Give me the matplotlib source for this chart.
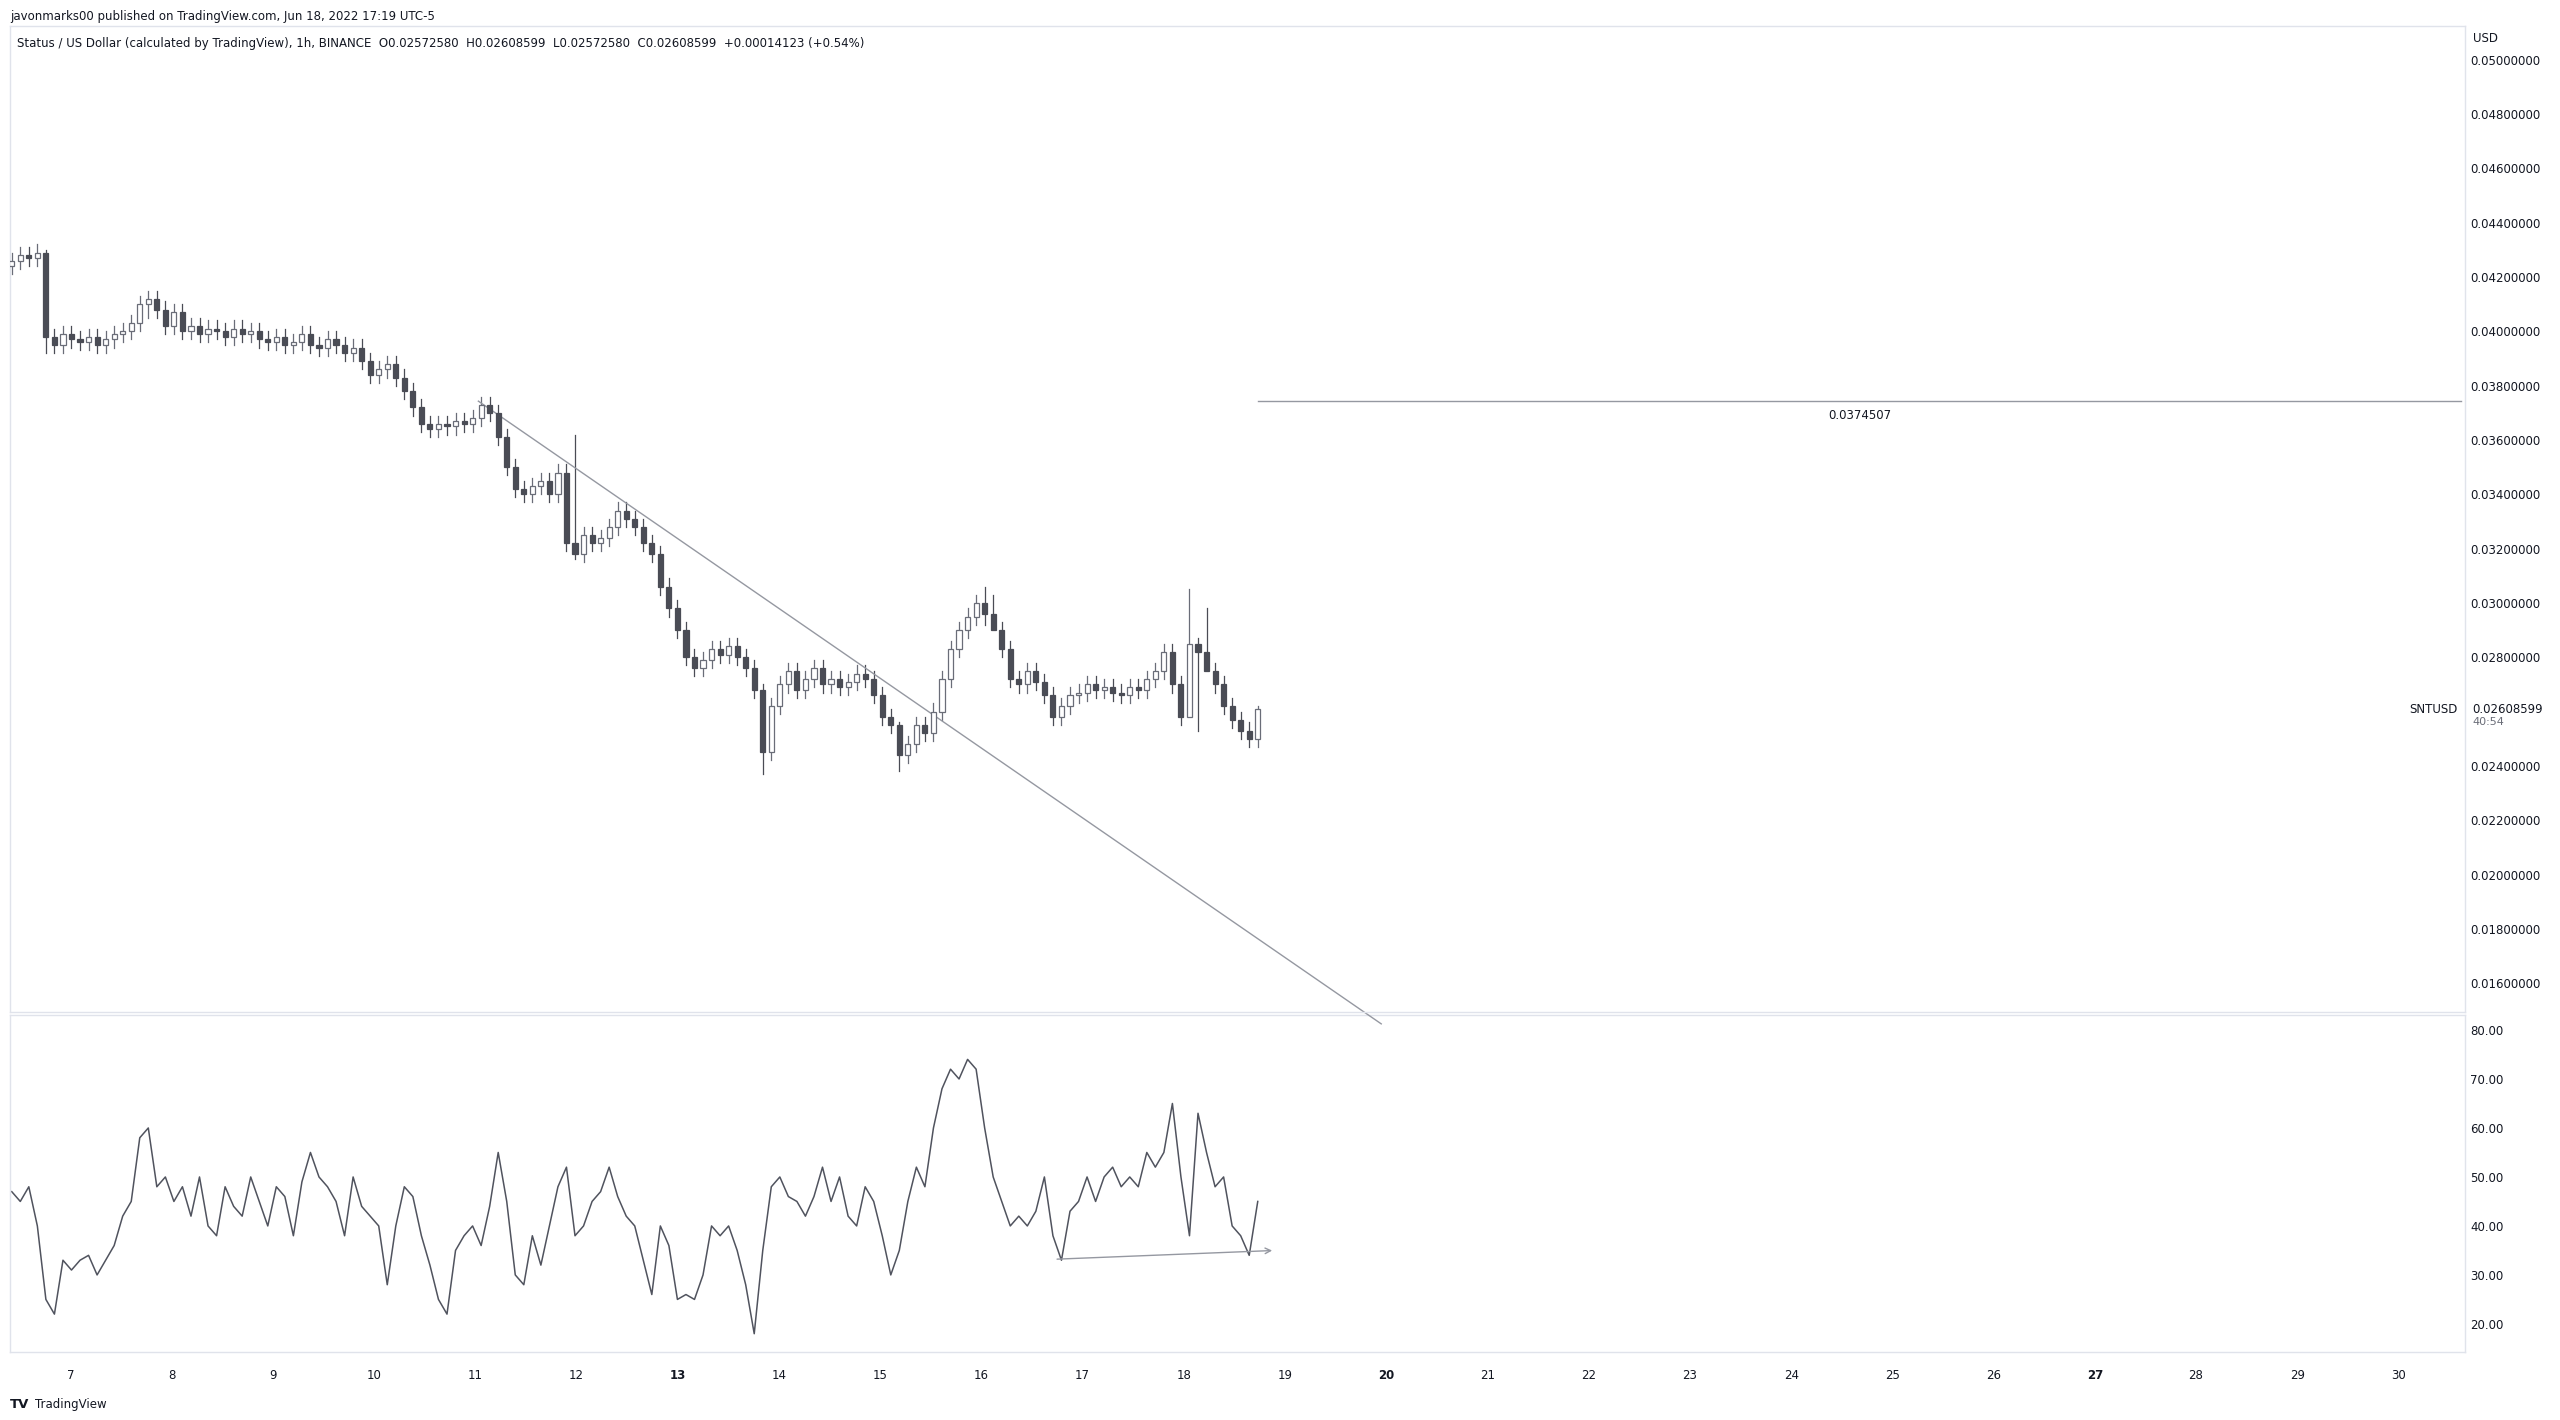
#!/usr/bin/env python3
import numpy as np
import matplotlib.pyplot as plt
from matplotlib.patches import Rectangle

# ~2h candles from June 6.42 to June 18.73 (day units)
t0 = 6.42
t_end = 18.73
closes = [
    0.0426, 0.0428, 0.0427, 0.0429, 0.0398, 0.0395, 0.0399, 0.0397, 0.0396, 0.0398, 0.0395, 0.0397,
    0.0399, 0.0400, 0.0403, 0.0410, 0.0412, 0.0408, 0.0402, 0.0407, 0.0400, 0.0402, 0.0399, 0.0401,
    0.0400, 0.0398, 0.0401, 0.0399, 0.0400, 0.0397, 0.0396, 0.0398, 0.0395, 0.0396, 0.0399, 0.0395,
    0.0394, 0.0397, 0.0395, 0.0392, 0.0394, 0.0389, 0.0384, 0.0386, 0.0388, 0.0383, 0.0378, 0.0372,
    0.0366, 0.0364, 0.0366, 0.0365, 0.0367, 0.0366, 0.0368, 0.0373, 0.0370, 0.0361, 0.0350, 0.0342,
    0.0340, 0.0343, 0.0345, 0.0340, 0.0348, 0.0322, 0.0318, 0.0325, 0.0322, 0.0324, 0.0328, 0.0334,
    0.0331, 0.0328, 0.0322, 0.0318, 0.0306, 0.0298, 0.0290, 0.0280, 0.0276, 0.0279, 0.0283, 0.0281,
    0.0284, 0.0280, 0.0276, 0.0268, 0.0245, 0.0262, 0.0270, 0.0275, 0.0268, 0.0272, 0.0276, 0.0270,
    0.0272, 0.0269, 0.0271, 0.0274, 0.0272, 0.0266, 0.0258, 0.0255, 0.0244, 0.0248, 0.0255, 0.0252,
    0.0260, 0.0272, 0.0283, 0.0290, 0.0295, 0.0300, 0.0296, 0.0290, 0.0283, 0.0272, 0.0270, 0.0275,
    0.0271, 0.0266, 0.0258, 0.0262, 0.0266, 0.0267, 0.0270, 0.0268, 0.0269, 0.0267, 0.0266, 0.0269,
    0.0268, 0.0272, 0.0275, 0.0282, 0.0270, 0.0258, 0.0285, 0.0282, 0.0275, 0.0270, 0.0262, 0.0257,
    0.0253, 0.0250, 0.02608599,
]
first_open = 0.0424
wick = 0.0003
# notable wicks: index -> (high, low)
spikes = {4: (0.0430, 0.0392), 16: (0.0415, 0.0405), 66: (0.0362, 0.0316),
          88: (0.0270, 0.0237), 104: (0.0256, 0.0238), 114: (0.0306, 0.0292),
          115: (0.0303, 0.0293), 138: (0.0305, 0.0268), 139: (0.0287, 0.0253),
          140: (0.0298, 0.0278), 146: (0.0262, 0.0247)}

rsi = [
    47, 45, 48, 40, 25, 22, 33, 31, 33, 34, 30, 33,
    36, 42, 45, 58, 60, 48, 50, 45, 48, 42, 50, 40,
    38, 48, 44, 42, 50, 45, 40, 48, 46, 38, 49, 55,
    50, 48, 45, 38, 50, 44, 42, 40, 28, 40, 48, 46,
    38, 32, 25, 22, 35, 38, 40, 36, 44, 55, 45, 30,
    28, 38, 32, 40, 48, 52, 38, 40, 45, 47, 52, 46,
    42, 40, 33, 26, 40, 36, 25, 26, 25, 30, 40, 38,
    40, 35, 28, 18, 35, 48, 50, 46, 45, 42, 46, 52,
    45, 50, 42, 40, 48, 45, 38, 30, 35, 45, 52, 48,
    60, 68, 72, 70, 74, 72, 60, 50, 45, 40, 42, 40,
    43, 50, 38, 33, 43, 45, 50, 45, 50, 52, 48, 50,
    48, 55, 52, 55, 65, 50, 38, 63, 55, 48, 50, 40,
    38, 34, 45,
]

trend_pts = ([11.03, 19.95], [0.03743, 0.01450])
hline_level = 0.0374507
hline_span = [18.73, 30.62]
div_pts = ([16.72, 18.9], [33.2, 35.0])

price_ticks = [v for v in np.arange(0.016, 0.0501, 0.002) if abs(v - 0.026) > 1e-6]
rsi_ticks = [20, 30, 40, 50, 60, 70, 80]
day_ticks = list(range(7, 31))
bold_days = [13, 20, 27]

GRID = '#e0e3eb'
TXT = '#131722'
UP_EDGE = '#6a6d78'
DOWN = '#4a4c55'

fig = plt.figure(figsize=(25.6, 14.2), dpi=100)
fs = 8.5
xlim = (6.4, 30.66)
ylim = (0.01492, 0.05126)

ax2 = fig.add_axes([0.0038, 0.048, 0.9592, 0.237])
ax = fig.add_axes([0.0038, 0.287, 0.9592, 0.695])
ax.patch.set_alpha(0)

for a in (ax, ax2):
    a.set_xlim(*xlim)
    for s in a.spines.values():
        s.set_color(GRID)
        s.set_linewidth(1)
    a.tick_params(axis='both', length=0, colors=TXT, labelsize=fs)
    a.yaxis.tick_right()

ax.set_ylim(*ylim)
ax.set_yticks(price_ticks)
ax.set_yticklabels([f'{v:.8f}' for v in price_ticks])
ax.set_xticks([])

# candles
step = (t_end - t0) / (len(closes) - 1)
opens = [first_open] + closes[:-1]
bw = step * 0.6
for i, (o, c) in enumerate(zip(opens, closes)):
    x = t0 + i * step
    hi, lo = spikes.get(i, (max(o, c) + wick, min(o, c) - wick))
    up = c >= o
    col = UP_EDGE if up else DOWN
    ax.plot([x, x], [lo, hi], color=col, lw=0.9, zorder=2)
    ax.add_patch(Rectangle((x - bw / 2, min(o, c)), bw, max(abs(c - o), 0.00003),
                           facecolor='white' if up else DOWN, edgecolor=col, lw=0.9, zorder=3))

ax.plot(*trend_pts, color='#9598a1', lw=1, clip_on=False)
ax.plot(hline_span, [hline_level] * 2, color='#9598a1', lw=1)
ax.text(sum(hline_span) / 2, hline_level - 0.0003, f'{hline_level}', ha='center', va='top',
        fontsize=fs, color=TXT)

# last price
last = closes[-1]
ly = (last - ylim[0]) / (ylim[1] - ylim[0])
ax.text(1.003, ly, f'{last:.8f}', transform=ax.transAxes,
        fontsize=fs, color=TXT, va='center', ha='left')
ax.text(1.003, ly - 0.013, '40:54', transform=ax.transAxes,
        fontsize=fs - 0.5, color='#6a6d78', va='center', ha='left')
ax.text(0.997, ly, 'SNTUSD', transform=ax.transAxes,
        fontsize=fs, color=TXT, va='center', ha='right')
ax.text(1.003, 0.993, 'USD', transform=ax.transAxes, fontsize=fs, color=TXT, va='top')

ax.text(0.003, 0.988,
        'Status / US Dollar (calculated by TradingView), 1h, BINANCE  O0.02572580  H0.02608599  '
        'L0.02572580  C0.02608599  +0.00014123 (+0.54%)',
        transform=ax.transAxes, fontsize=fs, color=TXT, va='top')

# rsi
rx = np.linspace(t0, t_end, len(rsi))
ax2.plot(rx, rsi, color='#50535e', lw=1.1)
ax2.annotate('', xy=(div_pts[0][1], div_pts[1][1]), xytext=(div_pts[0][0], div_pts[1][0]),
             arrowprops=dict(arrowstyle='->', color='#9598a1', lw=1))
ax2.set_ylim(14.3, 83)
ax2.set_yticks(rsi_ticks)
ax2.set_yticklabels([f'{v:.2f}' for v in rsi_ticks])
ax2.set_xticks(day_ticks)
ax2.set_xticklabels([str(d) for d in day_ticks])
ax2.tick_params(axis='x', pad=12)
for lbl, d in zip(ax2.get_xticklabels(), day_ticks):
    if d in bold_days:
        lbl.set_fontweight('bold')

fig.text(0.004, 0.993, 'javonmarks00 published on TradingView.com, Jun 18, 2022 17:19 UTC-5',
         fontsize=fs, color=TXT, va='top')
fig.text(0.004, 0.011, 'TV', fontsize=fs + 1, color=TXT, va='center', fontweight='bold')
fig.text(0.0135, 0.011, 'TradingView', fontsize=fs, color=TXT, va='center')

fig.savefig('out.png', dpi=100, facecolor='white')
